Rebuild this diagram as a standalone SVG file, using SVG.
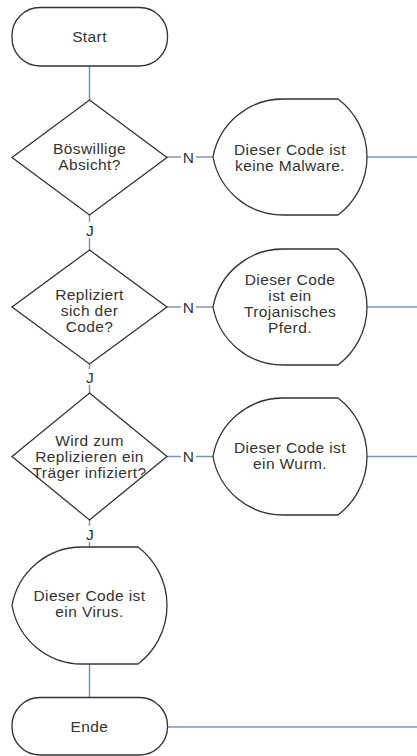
<svg xmlns="http://www.w3.org/2000/svg" width="417" height="756" viewBox="0 0 417 756">
<style>
.shape{fill:#ffffff;stroke:#333333;stroke-width:1.3}
.conn{fill:none;stroke:#7795c4;stroke-width:1.5}
text{font-family:"Liberation Sans",Arial,sans-serif;font-size:15.5px;letter-spacing:0.4px;fill:#333333;text-anchor:middle}
.lblbg{fill:#ffffff}
</style>
<rect width="417" height="756" fill="#ffffff"/>
<g id="connectors">
<path class="conn" d="M89.5,66 V100"/>
<path class="conn" d="M89.5,215 V250"/>
<path class="conn" d="M89.5,364 V393"/>
<path class="conn" d="M89.5,520 V547"/>
<path class="conn" d="M89.5,664 V698"/>
<path class="conn" d="M167,157 H213"/>
<path class="conn" d="M167,307 H213"/>
<path class="conn" d="M167,456.5 H213"/>
<path class="conn" d="M367,157 H417"/>
<path class="conn" d="M367,307 H417"/>
<path class="conn" d="M367,456.5 H417"/>
<path class="conn" d="M167,727 H417"/>
<g id="labels">
<rect class="lblbg" x="181" y="150" width="15" height="14"/>
<text x="188.5" y="162.5">N</text>
<rect class="lblbg" x="181" y="300" width="15" height="14"/>
<text x="188.5" y="312.5">N</text>
<rect class="lblbg" x="181" y="449.5" width="15" height="14"/>
<text x="188.5" y="462">N</text>
<rect class="lblbg" x="84" y="222" width="12" height="16"/>
<text x="90" y="235.5">J</text>
<rect class="lblbg" x="84" y="369" width="12" height="16"/>
<text x="90" y="382.5">J</text>
<rect class="lblbg" x="84" y="526" width="12" height="16"/>
<text x="90" y="539.5">J</text>
</g>
</g>
<g id="start">
<rect class="shape" x="12" y="7.5" width="155.5" height="58.5" rx="28" ry="28"/>
<text x="89.5" y="41.5">Start</text>
</g>
<g id="decision1">
<path class="shape" d="M89.5,100 L167,157.5 L89.5,215 L12,157.5 Z"/>
<text x="89.5" y="153.5">Böswillige</text>
<text x="89.5" y="169.5">Absicht?</text>
</g>
<g id="display1">
<path class="shape" d="M213,157 A71.2,71.2 0 0 1 283,99 L338,99 A72.5,72.5 0 0 1 338,215 L283,215 A71.2,71.2 0 0 1 213,157 Z"/>
<text x="290" y="154.5">Dieser Code ist</text>
<text x="290" y="170.5">keine Malware.</text>
</g>
<g id="decision2">
<path class="shape" d="M89.5,250 L167,307 L89.5,364 L12,307 Z"/>
<text x="89.5" y="299.5">Repliziert</text>
<text x="89.5" y="315.5">sich der</text>
<text x="89.5" y="331.5">Code?</text>
</g>
<g id="display2">
<path class="shape" d="M213,307 A71.2,71.2 0 0 1 283,249 L338,249 A72.5,72.5 0 0 1 338,365 L283,365 A71.2,71.2 0 0 1 213,307 Z"/>
<text x="290" y="284.5">Dieser Code</text>
<text x="290" y="300.5">ist ein</text>
<text x="290" y="316.5">Trojanisches</text>
<text x="290" y="332.5">Pferd.</text>
</g>
<g id="decision3">
<path class="shape" d="M89.5,393 L167,456.5 L89.5,520 L12,456.5 Z"/>
<text x="89.5" y="445.5">Wird zum</text>
<text x="89.5" y="461.5">Replizieren ein</text>
<text x="89.5" y="477.5">Träger infiziert?</text>
</g>
<g id="display3">
<path class="shape" d="M213,456.5 A71.1,71.1 0 0 1 283,398 L338,398 A73.5,73.5 0 0 1 338,515 L283,515 A71.1,71.1 0 0 1 213,456.5 Z"/>
<text x="290" y="452.5">Dieser Code ist</text>
<text x="290" y="468.5">ein Wurm.</text>
</g>
<g id="display4">
<path class="shape" d="M12,605.5 A71.1,71.1 0 0 1 82,547 L138,547 A73.5,73.5 0 0 1 138,664 L82,664 A71.1,71.1 0 0 1 12,605.5 Z"/>
<text x="89.5" y="600.5">Dieser Code ist</text>
<text x="89.5" y="616.5">ein Virus.</text>
</g>
<g id="end">
<rect class="shape" x="12" y="697.5" width="155.5" height="57.5" rx="28" ry="28"/>
<text x="89.5" y="731.5">Ende</text>
</g>
</svg>
